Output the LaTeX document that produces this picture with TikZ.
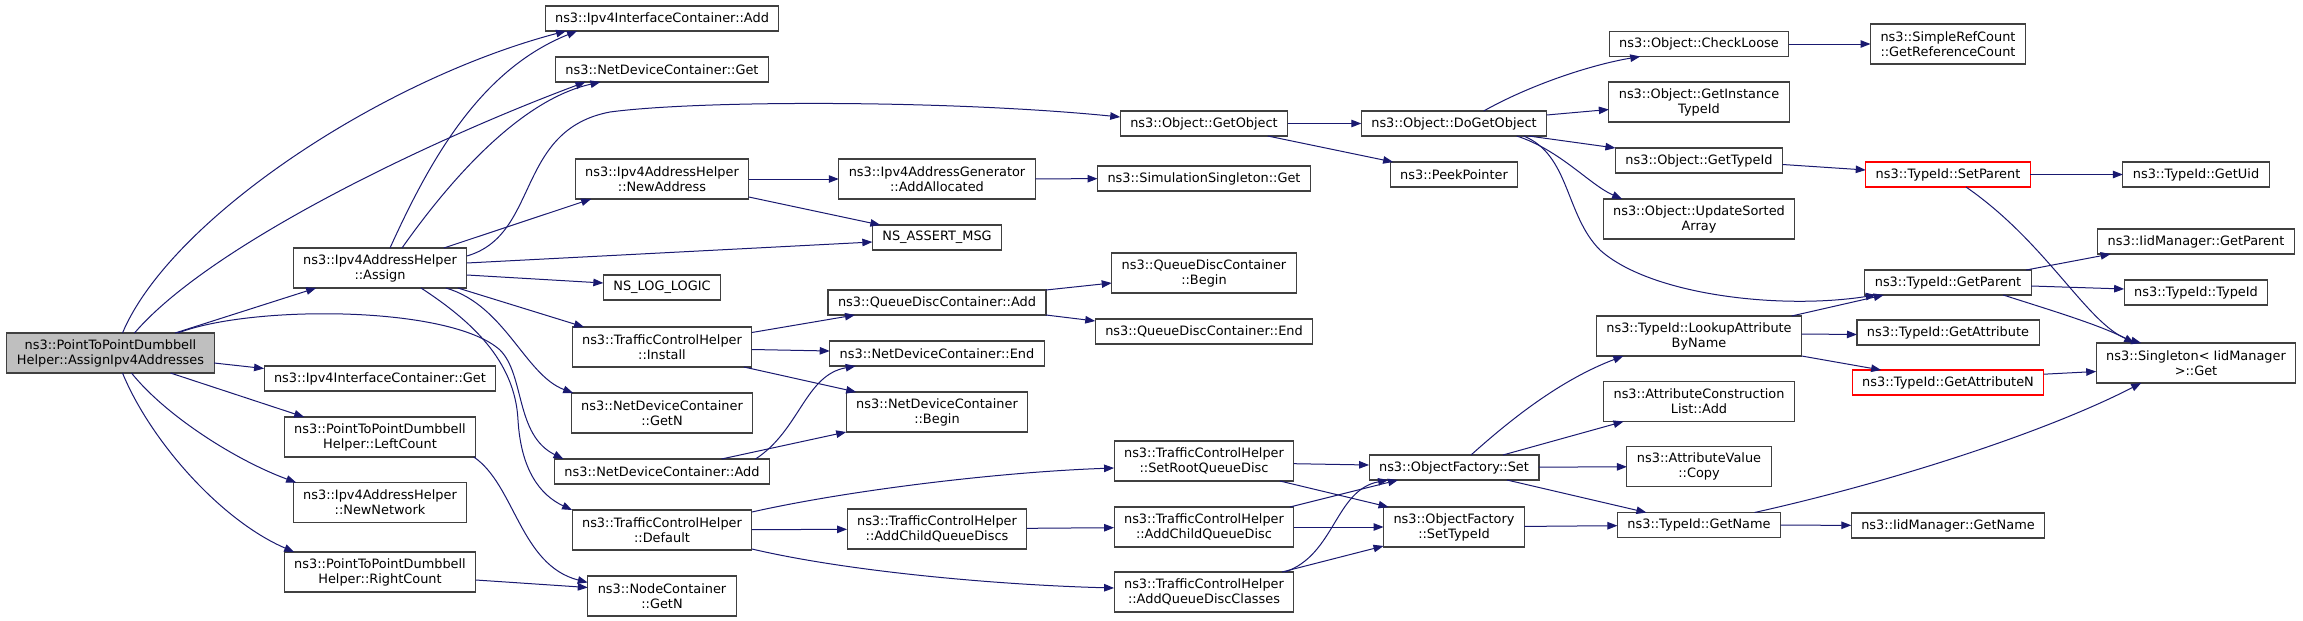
\documentclass[tikz,border=0pt]{standalone}
\usepackage{fontspec}
\setmainfont{DejaVu Sans}
\usetikzlibrary{positioning, arrows.meta}
\definecolor{edgeblue}{RGB}{25,25,112}
\definecolor{rootgrey}{RGB}{191,191,191}
\definecolor{boxline}{RGB}{64,64,64}

\begin{document}
\begin{tikzpicture}[
    x=1pt, y=-1pt,
    >={Triangle[length=10pt, width=7.5pt]},
    node distance=26pt,
    box/.style={rectangle, draw=boxline, line width=1.1pt, outer sep=0pt, fill=white, align=center, inner xsep=10pt, inner ysep=2pt, minimum height=25pt, font=\fontsize{12.9pt}{15pt}\selectfont},
    tallbox/.style={box, minimum height=40pt},
    rootbox/.style={tallbox, fill=rootgrey},
    redbox/.style={box, draw=red},
    edge/.style={->, draw=edgeblue, line width=1pt}
]
\path[use as bounding box, fill=white] (0,0) rectangle (2303,621);

% Caller
\node[rootbox] (root) at (110.5,353) {ns3::PointToPointDumbbell\\Helper::AssignIpv4Addresses};

% Column 2
\node[tallbox] (assign) at (380,268) {ns3::Ipv4AddressHelper\\::Assign};
\node[box, below=78pt of assign] (icget) {ns3::Ipv4InterfaceContainer::Get};
\node[tallbox, below=of icget] (leftcount) {ns3::PointToPointDumbbell\\Helper::LeftCount};
\node[tallbox, below=25.5pt of leftcount] (newnetwork) {ns3::Ipv4AddressHelper\\::NewNetwork};
\node[tallbox, below=29.5pt of newnetwork] (rightcount) {ns3::PointToPointDumbbell\\Helper::RightCount};

% Column 3
\node[box] (icadd) at (662,18.5) {ns3::Ipv4InterfaceContainer::Add};
\node[box, below=of icadd] (ndcget) {ns3::NetDeviceContainer::Get};
\node[tallbox, below=77pt of ndcget] (newaddress) {ns3::Ipv4AddressHelper\\::NewAddress};
\node[box, below=76pt of newaddress] (nslog) {NS\_LOG\_LOGIC};
\node[tallbox, below=27pt of nslog] (install) {ns3::TrafficControlHelper\\::Install};
\node[tallbox, below=of install] (ndcgetn) {ns3::NetDeviceContainer\\::GetN};
\node[box, below=of ndcgetn] (ndcadd) {ns3::NetDeviceContainer::Add};
\node[tallbox, below=of ndcadd] (tchdefault) {ns3::TrafficControlHelper\\::Default};
\node[tallbox, below=of tchdefault] (nodegetn) {ns3::NodeContainer\\::GetN};

% Column 4
\node[tallbox] (addalloc) at (937,179) {ns3::Ipv4AddressGenerator\\::AddAllocated};
\node[box, below=of addalloc] (nsassert) {NS\_ASSERT\_MSG};
\node[box, below=40pt of nsassert] (qdcadd) {ns3::QueueDiscContainer::Add};
\node[box, below=of qdcadd] (ndcend) {ns3::NetDeviceContainer::End};
\node[tallbox, below=of ndcend] (ndcbegin) {ns3::NetDeviceContainer\\::Begin};
\node[tallbox, below=77pt of ndcbegin] (addchildqds) {ns3::TrafficControlHelper\\::AddChildQueueDiscs};

% Column 5
\node[box] (getobject) at (1204,123.5) {ns3::Object::GetObject};
\node[box, below=30pt of getobject] (simget) {ns3::SimulationSingleton::Get};
\node[tallbox, below=62pt of simget] (qdcbegin) {ns3::QueueDiscContainer\\::Begin};
\node[box, below=of qdcbegin] (qdcend) {ns3::QueueDiscContainer::End};
\node[tallbox, below=97pt of qdcend] (setroot) {ns3::TrafficControlHelper\\::SetRootQueueDisc};
\node[tallbox, below=of setroot] (addchildqd) {ns3::TrafficControlHelper\\::AddChildQueueDisc};
\node[tallbox, below=25pt of addchildqd] (addclasses) {ns3::TrafficControlHelper\\::AddQueueDiscClasses};

% Column 6
\node[box] (dogetobject) at (1454,123.5) {ns3::Object::DoGetObject};
\node[box, below=of dogetobject] (peekpointer) {ns3::PeekPointer};
\node[box, below=268pt of peekpointer] (ofset) {ns3::ObjectFactory::Set};
\node[tallbox, below=27pt of ofset] (settypeid) {ns3::ObjectFactory\\::SetTypeId};

% Column 7
\node[box] (checkloose) at (1699,44) {ns3::Object::CheckLoose};
\node[tallbox, below=25.5pt of checkloose] (insttypeid) {ns3::Object::GetInstance\\TypeId};
\node[box, below=of insttypeid] (objtypeid) {ns3::Object::GetTypeId};
\node[tallbox, below=of objtypeid] (updatesorted) {ns3::Object::UpdateSorted\\Array};
\node[tallbox, below=77pt of updatesorted] (lookup) {ns3::TypeId::LookupAttribute\\ByName};
\node[tallbox, below=25.5pt of lookup] (acladd) {ns3::AttributeConstruction\\List::Add};
\node[tallbox, below=25pt of acladd] (avcopy) {ns3::AttributeValue\\::Copy};
\node[box, below=of avcopy] (getname) {ns3::TypeId::GetName};

% Column 8
\node[tallbox] (refcount) at (1948,44) {ns3::SimpleRefCount\\::GetReferenceCount};
\node[redbox, below=98pt of refcount] (setparent) {ns3::TypeId::SetParent};
\node[box, below=83pt of setparent] (getparent) {ns3::TypeId::GetParent};
\node[box, below=25pt of getparent] (getattr) {ns3::TypeId::GetAttribute};
\node[redbox, below=25pt of getattr] (getattrn) {ns3::TypeId::GetAttributeN};
\node[box, below=118pt of getattrn] (iidgetname) {ns3::IidManager::GetName};

% Column 9
\node[box] (getuid) at (2196,174.5) {ns3::TypeId::GetUid};
\node[box, below=42pt of getuid] (iidgetparent) {ns3::IidManager::GetParent};
\node[box, below=of iidgetparent] (typeidctor) {ns3::TypeId::TypeId};
\node[tallbox, below=38pt of typeidctor] (singleton) {ns3::Singleton< IidManager\\ >::Get};

% Calls from the caller
\draw[edge] ([xshift=12pt]root.north) .. controls (170,220) and (380,80) .. ([xshift=21pt]icadd.south west);
\draw[edge] ([xshift=24pt]root.north) .. controls (210,245) and (430,140) .. ([xshift=30pt]ndcget.south west);
\draw[edge] ([xshift=-39pt]root.north east) -- ([xshift=23pt]assign.south west);
\draw[edge] ([xshift=-36pt]root.north east) .. controls (250,305) and (450,305) .. (500,350) .. controls (525,375) and (515,435) .. ([xshift=9pt]ndcadd.north west);
\draw[edge] ([yshift=-10pt]root.east) -- ([yshift=10pt]icget.west);
\draw[edge] ([xshift=60pt]root.south) -- ([xshift=20pt]leftcount.north west);
\draw[edge] ([xshift=21pt]root.south) .. controls (165,415) and (235,460) .. ([xshift=3pt]newnetwork.north west);
\draw[edge] ([xshift=12pt]root.south) .. controls (150,440) and (220,520) .. ([xshift=10pt]rightcount.north west);

% Ipv4AddressHelper::Assign
\draw[edge] ([xshift=10pt]assign.north) .. controls (430,160) and (480,70) .. ([xshift=32pt]icadd.south west);
\draw[edge] ([xshift=22pt]assign.north) .. controls (450,180) and (520,100) .. ([xshift=45pt]ndcget.south west);
\draw[edge] ([yshift=12pt]assign.east) .. controls (540,235) and (515,130) .. (610,112) .. controls (700,100) and (950,100) .. ([yshift=6.5pt]getobject.west);
\draw[edge] ([xshift=-23pt]assign.north east) -- ([xshift=16pt]newaddress.south west);
\draw[edge] ([yshift=5pt]assign.east) -- ([yshift=-4.5pt]nsassert.west);
\draw[edge] ([yshift=-7pt]assign.east) -- ([yshift=4.5pt]nslog.west);
\draw[edge] ([xshift=-9pt]assign.south east) -- ([xshift=12pt]install.north west);
\draw[edge] ([xshift=-21pt]assign.south east) .. controls (505,305) and (525,375) .. ([xshift=2pt]ndcgetn.north west);
\draw[edge] ([xshift=41pt]assign.south) .. controls (470,320) and (515,360) .. (518,420) .. controls (521,470) and (540,495) .. (tchdefault.north west);

% Address helpers
\draw[edge] (newaddress) -- (addalloc);
\draw[edge] ([yshift=-18pt]newaddress.east) -- ([xshift=8pt]nsassert.north west);
\draw[edge] (addalloc) -- (simget);

% Object lookup
\draw[edge] (getobject) -- (dogetobject);
\draw[edge] ([xshift=-20pt]getobject.south east) -- ([xshift=3pt]peekpointer.north west);
\draw[edge] ([xshift=-63pt]dogetobject.north east) .. controls (1530,85) and (1590,65) .. ([xshift=31pt]checkloose.south west);
\draw[edge] ([yshift=8.5pt]dogetobject.east) -- ([yshift=-7.5pt]insttypeid.west);
\draw[edge] ([xshift=-18pt]dogetobject.south east) -- (objtypeid.north west);
\draw[edge] ([xshift=-30pt]dogetobject.south east) .. controls (1560,150) and (1590,185) .. ([xshift=19pt]updatesorted.north west);
\draw[edge] ([xshift=-23pt]dogetobject.south east) .. controls (1570,155) and (1565,215) .. (1600,250) .. controls (1650,295) and (1780,310) .. ([xshift=11pt]getparent.south west);
\draw[edge] (checkloose) -- (refcount);
\draw[edge] ([yshift=-4pt]objtypeid.east) -- ([yshift=4.5pt]setparent.west);
\draw[edge] (setparent) -- (getuid);
\draw[edge] ([xshift=18pt]setparent.south) .. controls (2050,245) and (2090,330) .. ([xshift=45pt]singleton.north west);

% TypeId
\draw[edge] ([xshift=-5pt]getparent.north east) -- ([xshift=13pt]iidgetparent.south west);
\draw[edge] ([yshift=-3.5pt]getparent.east) -- ([yshift=3.5pt]typeidctor.west);
\draw[edge] ([xshift=-28pt]getparent.south east) .. controls (2050,310) and (2100,325) .. ([xshift=38pt]singleton.north west);
\draw[edge] ([xshift=-10pt]lookup.north east) -- ([xshift=19pt]getparent.south west);
\draw[edge] ([yshift=2pt]lookup.east) -- ([yshift=-2pt]getattr.west);
\draw[edge] (lookup.south east) -- ([xshift=29pt]getattrn.north west);
\draw[edge] ([yshift=8.3pt]getattrn.east) -- ([yshift=-8.5pt]singleton.west);

% ObjectFactory
\draw[edge] ([xshift=17pt]ofset.north) .. controls (1510,420) and (1560,380) .. ([xshift=27pt]lookup.south west);
\draw[edge] ([xshift=-36pt]ofset.north east) -- ([xshift=20pt]acladd.south west);
\draw[edge] (ofset) -- (avcopy);
\draw[edge] ([xshift=-32pt]ofset.south east) -- ([xshift=29pt]getname.north west);
\draw[edge] (settypeid) -- (getname);
\draw[edge] (getname) -- (iidgetname);
\draw[edge] ([xshift=-26pt]getname.north east) .. controls (1900,480) and (2050,430) .. ([xshift=45pt]singleton.south west);

% Traffic control
\draw[edge] ([yshift=-2.7pt]setroot.east) -- ([yshift=2.5pt]ofset.west);
\draw[edge] ([xshift=-14pt]setroot.south east) -- ([xshift=5pt]settypeid.north west);
\draw[edge] ([xshift=-4pt]addchildqd.north east) -- ([xshift=29pt]ofset.south west);
\draw[edge] (addchildqd) -- (settypeid);
\draw[edge] ([xshift=-9pt]addclasses.north east) .. controls (1335,555) and (1335,490) .. ([xshift=19pt]ofset.south west);
\draw[edge] ([xshift=-12pt]addclasses.north east) -- ([yshift=-19pt]settypeid.west);
\draw[edge] ([yshift=18pt]tchdefault.east) .. controls (850,490) and (1000,472) .. ([yshift=-7pt]setroot.west);
\draw[edge] (tchdefault) -- (addchildqds);
\draw[edge] ([yshift=-19pt]tchdefault.east) .. controls (850,572) and (1000,585) .. ([yshift=4pt]addclasses.west);
\draw[edge] (addchildqds) -- (addchildqd);
\draw[edge] ([yshift=14.5pt]install.east) -- ([xshift=27pt]qdcadd.south west);
\draw[edge] ([yshift=-2.5pt]install.east) -- ([yshift=2.5pt]ndcend.west);
\draw[edge] ([xshift=-8pt]install.south east) -- ([xshift=10pt]ndcbegin.north west);
\draw[edge] (qdcadd.north east) -- ([yshift=-10pt]qdcbegin.west);
\draw[edge] (qdcadd.south east) -- ([yshift=-2pt]qdcend.north west);
\draw[edge] ([xshift=-14pt]ndcadd.north east) .. controls (800,430) and (805,375) .. ([xshift=26pt]ndcend.south west);
\draw[edge] ([xshift=-48pt]ndcadd.north east) -- (ndcbegin.south west);

% Node counts
\draw[edge] ([xshift=-2pt]leftcount.south east) .. controls (515,485) and (520,565) .. ([yshift=13.5pt]nodegetn.west);
\draw[edge] ([yshift=-8pt]rightcount.east) -- ([yshift=8.5pt]nodegetn.west);

\end{tikzpicture}
\end{document}
